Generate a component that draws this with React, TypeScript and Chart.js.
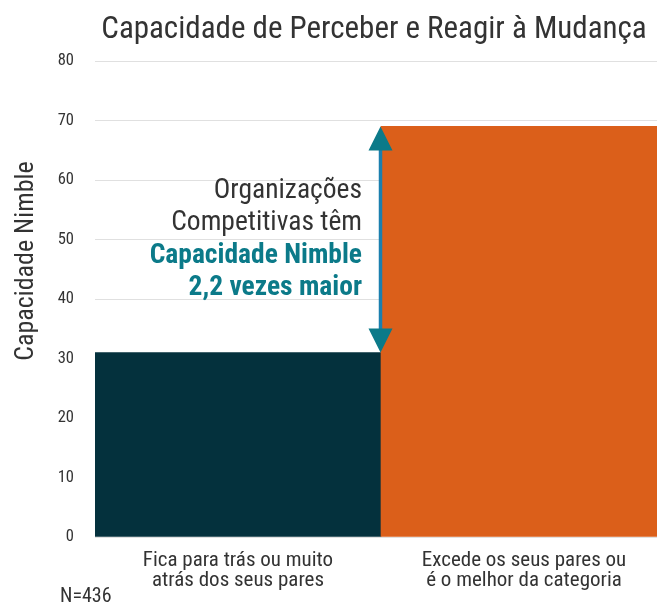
import React, { useEffect, useRef } from "react";
import { Chart, registerables } from "chart.js";

Chart.register(...registerables);

const categories: string[][] = [
  ["Fica para trás ou muito", "atrás dos seus pares"],
  ["Excede os seus pares ou", "é o melhor da categoria"],
];
const values: number[] = [31, 69];
const barColors: string[] = ["#04313d", "#db5f1a"];
const yMin = 0;
const yMax = 80;
const yStep = 10;
const titleText = "Capacidade de Perceber e Reagir à Mudança";
const yAxisTitle = "Capacidade Nimble";
const noteLines: string[] = ["Organizações", "Competitivas têm"];
const noteHighlight: string[] = ["Capacidade Nimble", "2,2 vezes maior"];
const footnote = "N=436";

const FONT = '"Roboto Condensed", "Liberation Sans Narrow", Roboto, sans-serif';
const TEXT = "#333333";
const TEAL = "#0b7a89";

const overlay = {
  id: "overlay",
  afterDraw(chart: any) {
    const ctx = chart.ctx as CanvasRenderingContext2D;
    const xs = chart.scales.x;
    const ys = chart.scales.y;
    ctx.save();

    // Title
    ctx.fillStyle = TEXT;
    ctx.font = `31px ${FONT}`;
    ctx.textAlign = "center";
    ctx.textBaseline = "alphabetic";
    ctx.fillText(titleText, 374, 38);

    // Y axis title
    ctx.save();
    ctx.translate(33, 261);
    ctx.rotate(-Math.PI / 2);
    ctx.font = `26px ${FONT}`;
    ctx.textAlign = "center";
    ctx.textBaseline = "alphabetic";
    ctx.fillText(yAxisTitle, 0, 0);
    ctx.restore();

    // Arrow between the two bar values
    const xArrow = (xs.getPixelForValue(0) + xs.getPixelForValue(1)) / 2 - 0.5;
    const yTop = ys.getPixelForValue(Math.max(...values));
    const yBot = ys.getPixelForValue(Math.min(...values));
    const headH = 24;
    const headW = 12;
    ctx.strokeStyle = "#1b7fae";
    ctx.lineWidth = 3.5;
    ctx.beginPath();
    ctx.moveTo(xArrow, yTop + headH - 2);
    ctx.lineTo(xArrow, yBot - headH + 2);
    ctx.stroke();
    ctx.fillStyle = TEAL;
    ctx.beginPath();
    ctx.moveTo(xArrow, yTop);
    ctx.lineTo(xArrow + headW, yTop + headH);
    ctx.lineTo(xArrow - headW, yTop + headH);
    ctx.closePath();
    ctx.fill();
    ctx.beginPath();
    ctx.moveTo(xArrow, yBot);
    ctx.lineTo(xArrow + headW, yBot - headH);
    ctx.lineTo(xArrow - headW, yBot - headH);
    ctx.closePath();
    ctx.fill();

    // Note text
    const noteX = 362;
    ctx.textAlign = "right";
    ctx.textBaseline = "alphabetic";
    ctx.fillStyle = TEXT;
    ctx.font = `27.5px ${FONT}`;
    ctx.fillText(noteLines[0], noteX, 198);
    ctx.fillText(noteLines[1], noteX, 230);
    ctx.fillStyle = TEAL;
    ctx.font = `bold 27.5px ${FONT}`;
    ctx.fillText(noteHighlight[0], noteX, 263);
    ctx.fillText(noteHighlight[1], noteX, 295);

    // Footnote
    ctx.fillStyle = TEXT;
    ctx.font = `20px ${FONT}`;
    ctx.textAlign = "left";
    ctx.fillText(footnote, 60, 602);

    ctx.restore();
  },
};

export default function App() {
  const ref = useRef<HTMLCanvasElement>(null);
  useEffect(() => {
    if (!ref.current) return;
    const chart = new Chart(ref.current, {
      type: "bar",
      data: {
        labels: categories,
        datasets: [
          {
            data: values,
            backgroundColor: barColors,
            borderWidth: 0,
            barPercentage: 1,
            categoryPercentage: 1,
          },
        ],
      },
      options: {
        animation: false,
        responsive: true,
        maintainAspectRatio: false,
        layout: { padding: { top: 61, left: 0, right: 0, bottom: 0 } },
        plugins: {
          legend: { display: false },
          title: { display: false },
          tooltip: { enabled: false },
        },
        scales: {
          x: {
            grid: { display: false },
            border: { display: false },
            ticks: {
              color: TEXT,
              padding: 6,
              font: { family: FONT, size: 21, lineHeight: 0.95 },
              maxRotation: 0,
              autoSkip: false,
            },
            afterFit(scale: any) {
              scale.height = 65;
            },
          },
          y: {
            min: yMin,
            max: yMax,
            grid: { color: "#e0e0e0", lineWidth: 1, drawTicks: false },
            border: { display: false },
            ticks: {
              stepSize: yStep,
              color: TEXT,
              padding: 21,
              font: { family: FONT, size: 16.5 },
            },
            afterFit(scale: any) {
              scale.width = 95;
            },
          },
        },
      },
      plugins: [overlay],
    });
    return () => chart.destroy();
  }, []);
  return (
    <div style={{ position: "fixed", left: 0, top: 0, width: 667, height: 602, background: "#fff" }}>
      <canvas ref={ref} />
    </div>
  );
}
